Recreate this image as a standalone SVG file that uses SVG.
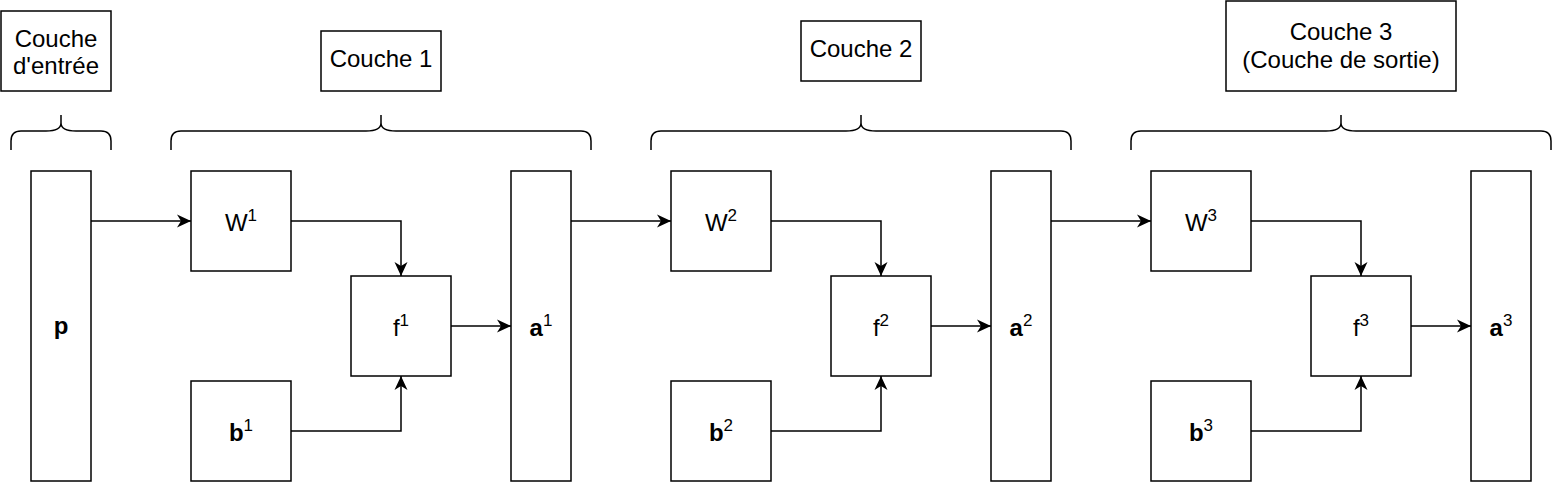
<svg xmlns="http://www.w3.org/2000/svg" width="1552" height="482" viewBox="0 0 1552 482">
<style>
.box{fill:#fff;stroke:#000;stroke-width:1.5}
.t{font-family:"Liberation Sans",Arial,Helvetica,sans-serif;font-size:24px;fill:#000;text-anchor:middle}
.b{font-weight:bold}
.sup{font-size:17px;font-weight:normal}
.brace{fill:none;stroke:#000;stroke-width:1.5}
.edge{fill:none;stroke:#000;stroke-width:1.5;marker-end:url(#arr)}
</style>
<defs>
<marker id="arr" markerWidth="15" markerHeight="15" refX="14" refY="7.5" orient="auto" markerUnits="userSpaceOnUse">
<path d="M14,7.5 L0,1 L4,7.5 L0,14 Z" fill="#000"/>
</marker>
</defs>
<rect width="1552" height="482" fill="#fff"/>

<g id="label-input"><rect class="box" x="1" y="11" width="110" height="80"/><text class="t" x="56" y="47">Couche</text><text class="t" x="56" y="74">d'entrée</text></g>
<g id="label-layer1"><rect class="box" x="321" y="31" width="120" height="60"/><text class="t" x="381" y="67">Couche 1</text></g>
<g id="label-layer2"><rect class="box" x="801" y="21" width="120" height="60"/><text class="t" x="861" y="57">Couche 2</text></g>
<g id="label-layer3"><rect class="box" x="1226" y="1" width="230" height="90"/><text class="t" x="1341" y="40">Couche 3</text><text class="t" x="1341" y="68">(Couche de sortie)</text></g>

<g id="braces">
<path class="brace" d="M11,150 L11,141 Q11,131 21,131 L46,131 Q61,131 61,123 L61,115 M61,123 Q61,131 76,131 L101,131 Q111,131 111,141 L111,150"/>
<path class="brace" d="M171,150 L171,141 Q171,131 181,131 L366,131 Q381,131 381,123 L381,115 M381,123 Q381,131 396,131 L581,131 Q591,131 591,141 L591,150"/>
<path class="brace" d="M651,150 L651,141 Q651,131 661,131 L846,131 Q861,131 861,123 L861,115 M861,123 Q861,131 876,131 L1061,131 Q1071,131 1071,141 L1071,150"/>
<path class="brace" d="M1131,150 L1131,141 Q1131,131 1141,131 L1326,131 Q1341,131 1341,123 L1341,115 M1341,123 Q1341,131 1356,131 L1541,131 Q1551,131 1551,141 L1551,150"/>
</g>

<g id="p"><rect class="box" x="31" y="171" width="60" height="310"/><text class="t b" x="61" y="334">p</text></g>

<g id="W1"><rect class="box" x="191" y="171" width="100" height="100"/><text class="t" x="241" y="231">W<tspan class="sup" dy="-10">1</tspan></text></g>
<g id="b1"><rect class="box" x="191" y="381" width="100" height="100"/><text class="t b" x="241" y="441">b<tspan class="sup" dy="-10">1</tspan></text></g>
<g id="f1"><rect class="box" x="351" y="276" width="100" height="100"/><text class="t" x="401" y="336">f<tspan class="sup" dy="-10">1</tspan></text></g>
<g id="a1"><rect class="box" x="511" y="171" width="60" height="310"/><text class="t b" x="541" y="336">a<tspan class="sup" dy="-10">1</tspan></text></g>

<g id="W2"><rect class="box" x="671" y="171" width="100" height="100"/><text class="t" x="721" y="231">W<tspan class="sup" dy="-10">2</tspan></text></g>
<g id="b2"><rect class="box" x="671" y="381" width="100" height="100"/><text class="t b" x="721" y="441">b<tspan class="sup" dy="-10">2</tspan></text></g>
<g id="f2"><rect class="box" x="831" y="276" width="100" height="100"/><text class="t" x="881" y="336">f<tspan class="sup" dy="-10">2</tspan></text></g>
<g id="a2"><rect class="box" x="991" y="171" width="60" height="310"/><text class="t b" x="1021" y="336">a<tspan class="sup" dy="-10">2</tspan></text></g>

<g id="W3"><rect class="box" x="1151" y="171" width="100" height="100"/><text class="t" x="1201" y="231">W<tspan class="sup" dy="-10">3</tspan></text></g>
<g id="b3"><rect class="box" x="1151" y="381" width="100" height="100"/><text class="t b" x="1201" y="441">b<tspan class="sup" dy="-10">3</tspan></text></g>
<g id="f3"><rect class="box" x="1311" y="276" width="100" height="100"/><text class="t" x="1361" y="336">f<tspan class="sup" dy="-10">3</tspan></text></g>
<g id="a3"><rect class="box" x="1471" y="171" width="60" height="310"/><text class="t b" x="1501" y="336">a<tspan class="sup" dy="-10">3</tspan></text></g>

<g id="connectors">
<path class="edge" d="M91,221 L191,221"/>
<path class="edge" d="M291,221 L401,221 L401,276"/>
<path class="edge" d="M291,431 L401,431 L401,376"/>
<path class="edge" d="M451,326 L511,326"/>
<path class="edge" d="M571,221 L671,221"/>
<path class="edge" d="M771,221 L881,221 L881,276"/>
<path class="edge" d="M771,431 L881,431 L881,376"/>
<path class="edge" d="M931,326 L991,326"/>
<path class="edge" d="M1051,221 L1151,221"/>
<path class="edge" d="M1251,221 L1361,221 L1361,276"/>
<path class="edge" d="M1251,431 L1361,431 L1361,376"/>
<path class="edge" d="M1411,326 L1471,326"/>
</g>
</svg>
